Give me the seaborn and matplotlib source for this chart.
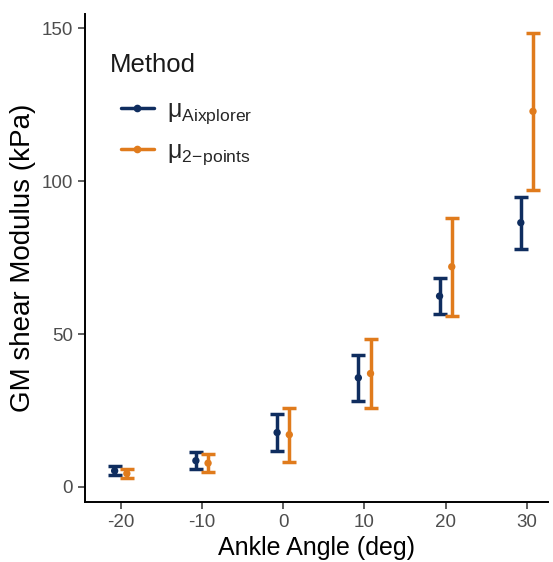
import numpy as np
import pandas as pd
import matplotlib
matplotlib.use("Agg")
import matplotlib.pyplot as plt
from matplotlib.lines import Line2D
from matplotlib.legend_handler import HandlerLine2D
import seaborn as sns

angles = [-20, -10, 0, 10, 20, 30]
methods = ["Aixplorer", "2-points"]
mean_aix = [5.3, 8.6, 17.8, 35.7, 62.4, 86.4]
err_aix = [1.5, 2.8, 5.9, 7.5, 6.0, 8.5]
mean_2pt = [4.4, 7.8, 17.1, 37.1, 72.0, 122.8]
err_2pt = [1.5, 3.0, 8.8, 11.4, 16.0, 25.7]
labels = [r"$\mathrm{\mu}_{\mathrm{Aixplorer}}$", r"$\mathrm{\mu}_{\mathrm{2\!-\!points}}$"]
colors = ["#0f2d5f", "#e07b1c"]

df = pd.DataFrame({
    "angle": angles * 2,
    "mean": mean_aix + mean_2pt,
    "err": err_aix + err_2pt,
    "method": [methods[0]] * 6 + [methods[1]] * 6,
})
dodge = {methods[0]: -0.75, methods[1]: 0.75}
df["xpos"] = df["angle"] + df["method"].map(dodge)

sns.set_theme(style="ticks")
plt.rcParams["font.family"] = ["Liberation Sans", "DejaVu Sans"]
plt.rcParams["mathtext.fontset"] = "custom"
plt.rcParams["mathtext.rm"] = "Liberation Sans"
plt.rcParams["mathtext.it"] = "Liberation Sans"
plt.rcParams["axes.unicode_minus"] = False

W, H = 553, 562
fig = plt.figure(figsize=(W / 100, H / 100), dpi=100)
ax = fig.add_axes([0.1537, 0.1068, 0.991 - 0.1537, 0.975 - 0.1068])

palette = dict(zip(methods, colors))
for m in methods:
    sub = df[df["method"] == m]
    ax.errorbar(sub["xpos"], sub["mean"], yerr=sub["err"], fmt="none",
                ecolor=palette[m], elinewidth=2.5, capsize=4.7, capthick=2.5, zorder=2)
sns.scatterplot(data=df, x="xpos", y="mean", hue="method", palette=palette,
                s=28, edgecolor="none", ax=ax, legend=False, zorder=3)

ax.set_xlim(-24.4, 32.6)
ax.set_ylim(-4.9, 154.6)
ax.set_xticks(angles)
ax.set_xticklabels([str(a) for a in angles])
ax.set_yticks([0, 50, 100, 150])
ax.set_xlabel("Ankle Angle (deg)", fontsize=18, color="black", labelpad=4)
ax.set_ylabel("GM shear Modulus (kPa)", fontsize=20, color="black", labelpad=4)
ax.tick_params(axis="both", labelsize=13.5, labelcolor="#4d4d4d", color="#333333",
               length=5, width=1.1)
for s in ["top", "right"]:
    ax.spines[s].set_visible(False)
for s in ["left", "bottom"]:
    ax.spines[s].set_color("black")
    ax.spines[s].set_linewidth(1.4)

# legend title as separate text
fig.text(110 / W, 1 - 65 / H, "Method", fontsize=18.5, color="#1a1a1a",
         ha="left", va="center")

handles = [Line2D([0], [0], color=c, lw=2.5, marker="o", markersize=4.5) for c in colors]
leg = fig.legend(handles, labels, loc="upper left",
                 bbox_to_anchor=(110 / W, 1 - 90 / H), bbox_transform=fig.transFigure,
                 frameon=False, fontsize=18, labelspacing=0.5,
                 handlelength=1.55, handletextpad=0.55, borderpad=0,
                 handler_map={Line2D: HandlerLine2D(xpad=0.25)})

# align first legend key to target position (118 px from left, 108 px from top)
fig.canvas.draw()
hl = leg.legend_handles[0].get_window_extent(fig.canvas.get_renderer())
dx = 118 - hl.x0
dy = (H - 108) - (hl.y0 + hl.y1) / 2
leg.set_bbox_to_anchor(((110 + dx) / W, 1 - 90 / H + dy / H), transform=fig.transFigure)

fig.savefig("out.png", dpi=100)
